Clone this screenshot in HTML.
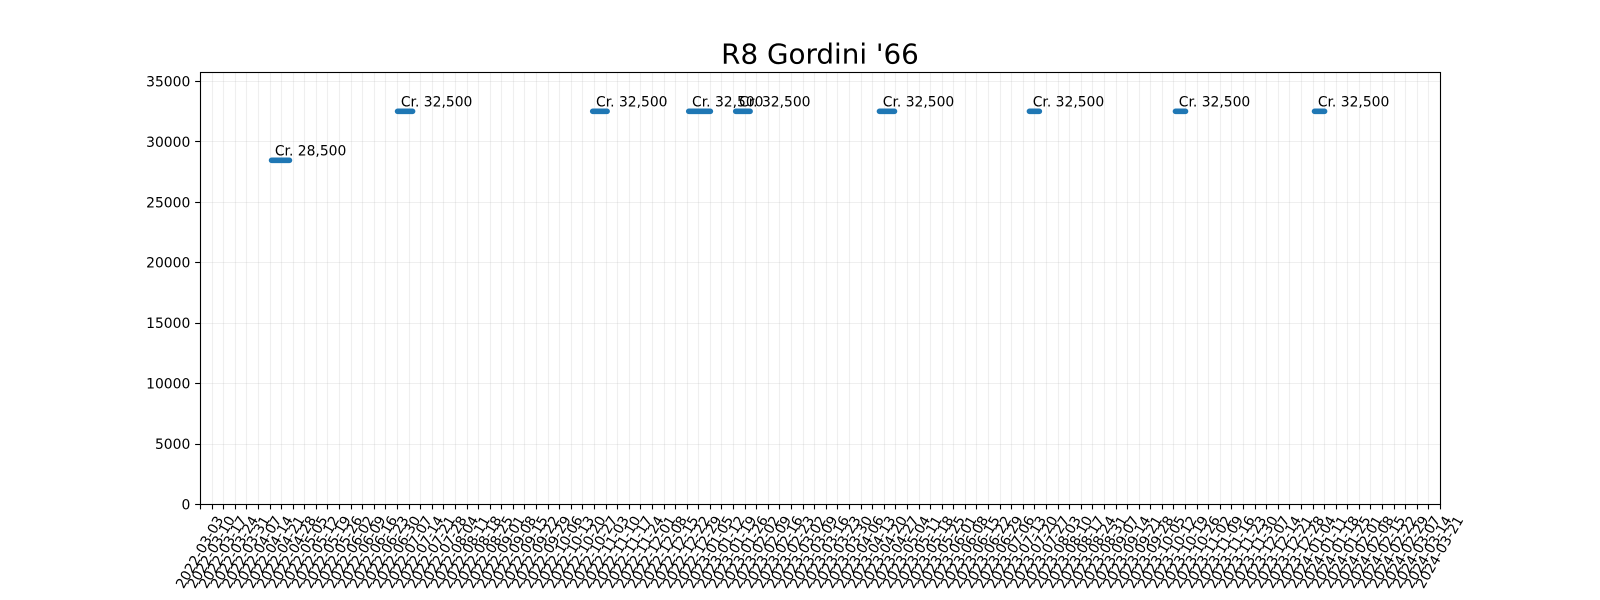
<!DOCTYPE html>
<html lang="en">
<head>
<meta charset="utf-8">
<title>R8 Gordini '66</title>
<style>
html,body{margin:0;padding:0;background:#fff;width:1600px;height:600px;overflow:hidden}
svg{display:block}
text{font-family:"DejaVu Sans","Liberation Sans",sans-serif;fill:#000}
</style>
</head>
<body>
<svg id="chart" xmlns="http://www.w3.org/2000/svg" width="1600" height="600" viewBox="0 0 1600 600"></svg>
<script>
const tickDates = [
"2022-03-03","2022-03-10","2022-03-17","2022-03-24","2022-03-31","2022-04-07","2022-04-14","2022-04-21","2022-04-28","2022-05-05","2022-05-12","2022-05-19","2022-05-26","2022-06-02","2022-06-09","2022-06-16","2022-06-23","2022-06-30","2022-07-07","2022-07-14","2022-07-21","2022-07-28","2022-08-04","2022-08-11","2022-08-18","2022-08-25","2022-09-01","2022-09-08","2022-09-15","2022-09-22","2022-09-29","2022-10-06","2022-10-13","2022-10-20","2022-10-27","2022-11-03","2022-11-10","2022-11-17","2022-11-24","2022-12-01","2022-12-08","2022-12-15","2022-12-22","2022-12-29",
"2023-01-05","2023-01-12","2023-01-19","2023-01-26","2023-02-02","2023-02-09","2023-02-16","2023-02-23","2023-03-02","2023-03-09","2023-03-16","2023-03-23","2023-03-30","2023-04-06","2023-04-13","2023-04-20","2023-04-27","2023-05-04","2023-05-11","2023-05-18","2023-05-25","2023-06-01","2023-06-08","2023-06-15","2023-06-22","2023-06-29","2023-07-06","2023-07-13","2023-07-20","2023-07-27","2023-08-03","2023-08-10","2023-08-17","2023-08-24","2023-08-31","2023-09-07","2023-09-14","2023-09-21","2023-09-28","2023-10-05","2023-10-12","2023-10-19","2023-10-26","2023-11-02","2023-11-09","2023-11-16","2023-11-23","2023-11-30","2023-12-07","2023-12-14","2023-12-21","2023-12-28",
"2024-01-04","2024-01-11","2024-01-18","2024-01-25","2024-02-01","2024-02-08","2024-02-15","2024-02-22","2024-02-29","2024-03-07","2024-03-14","2024-03-21"];
const yTicks = [0,5000,10000,15000,20000,25000,30000,35000];
const yLimit = 35750;
const segmentStarts = ["2022-04-15T05:00Z","2022-06-30T08:00Z","2022-10-26T05:00Z","2022-12-23T05:00Z","2023-01-20T14:00Z","2023-04-17T10:00Z","2023-07-17T00:00Z","2023-10-13T05:00Z","2024-01-05T05:00Z"];
const segmentEnds   = ["2022-04-26T01:00Z","2022-07-09T10:00Z","2022-11-03T22:00Z","2023-01-05T07:00Z","2023-01-29T07:00Z","2023-04-26T12:00Z","2023-07-23T00:00Z","2023-10-19T07:00Z","2024-01-11T07:00Z"];
const segmentPrices = [28500,32500,32500,32500,32500,32500,32500,32500,32500];

const plot = {left:200,right:1440,top:72,bottom:504};
const NS = "http://www.w3.org/2000/svg";
const svg = document.getElementById("chart");
const tMin = Date.parse(tickDates[0]);
const tMax = Date.parse(tickDates[tickDates.length-1]);
function xScale(d){return plot.left+(Date.parse(d)-tMin)/(tMax-tMin)*(plot.right-plot.left);}
function yScale(v){return plot.bottom-v/yLimit*(plot.bottom-plot.top);}
function snap(v){return Math.round(v)+0.5;}
function make(tag,parent,attrs){
  const e=document.createElementNS(NS,tag);
  for(const k in attrs)e.setAttribute(k,attrs[k]);
  parent.appendChild(e);
  return e;
}
const SW=1.11;

/* grid */
const gridGroup=make("g",svg,{});


tickDates.forEach(d=>{
  const x=snap(xScale(d));
  const el=make("line",gridGroup,{x1:x,x2:x,y1:plot.top,y2:plot.bottom,stroke:"#b0b0b0","stroke-opacity":0.2,"stroke-width":SW});
  
  
});
yTicks.forEach(v=>{
  const y=snap(yScale(v));
  const el=make("line",gridGroup,{x1:plot.left,x2:plot.right,y1:y,y2:y,stroke:"#b0b0b0","stroke-opacity":0.2,"stroke-width":SW});
  
  
});

/* series */
const seriesGroup=make("g",svg,{});


segmentPrices.forEach((p,i)=>{
  const x1=xScale(segmentStarts[i]);
  const x2=xScale(segmentEnds[i]);
  const y=Math.round(yScale(p))+0.3;
  const el=make("line",seriesGroup,{x1:x1,x2:x2,y1:y,y2:y,stroke:"#1f77b4","stroke-width":5.56,"stroke-linecap":"round"});
  
  
});
segmentPrices.forEach((p,i)=>{
  const x1=xScale(segmentStarts[i]);
  const y=Math.round(yScale(p));
  const el=make("text",seriesGroup,{x:x1+3.3,y:y-4.6,"font-size":"13.89px"});
  el.textContent="Cr. "+p.toLocaleString("en-US");
  
  
});

/* spines */
const frame=make("rect",svg,{x:plot.left+0.5,y:plot.top+0.5,width:plot.right-plot.left,height:plot.bottom-plot.top,fill:"none",stroke:"#000","stroke-width":SW});



/* x axis */
const xAxis=make("g",svg,{});


tickDates.forEach(d=>{
  const x=snap(xScale(d));
  const tick=make("line",xAxis,{x1:x,x2:x,y1:plot.bottom,y2:plot.bottom+5.4,stroke:"#000","stroke-width":SW});
  
  
  const cx=xScale(d)-0.7;
  const cy=552;
  const label=make("text",xAxis,{x:cx,y:cy+5,"font-size":"13.89px","text-anchor":"middle",transform:"rotate(-60 "+cx+" "+cy+")"});
  label.textContent=d;
  
  
});

/* y axis */
const yAxis=make("g",svg,{});


yTicks.forEach(v=>{
  const y=snap(yScale(v));
  const tick=make("line",yAxis,{x1:plot.left-4.86,x2:plot.left,y1:y,y2:y,stroke:"#000","stroke-width":SW});
  
  
  const label=make("text",yAxis,{x:plot.left-9.7,y:yScale(v)+5.4,"font-size":"13.89px","text-anchor":"end"});
  label.textContent=String(v);
  
  
});

/* title */
const title=make("text",svg,{x:(plot.left+plot.right)/2,y:63.5,"font-size":"27.78px","text-anchor":"middle"});
title.textContent="R8 Gordini '66";


</script>
</body>
</html>
